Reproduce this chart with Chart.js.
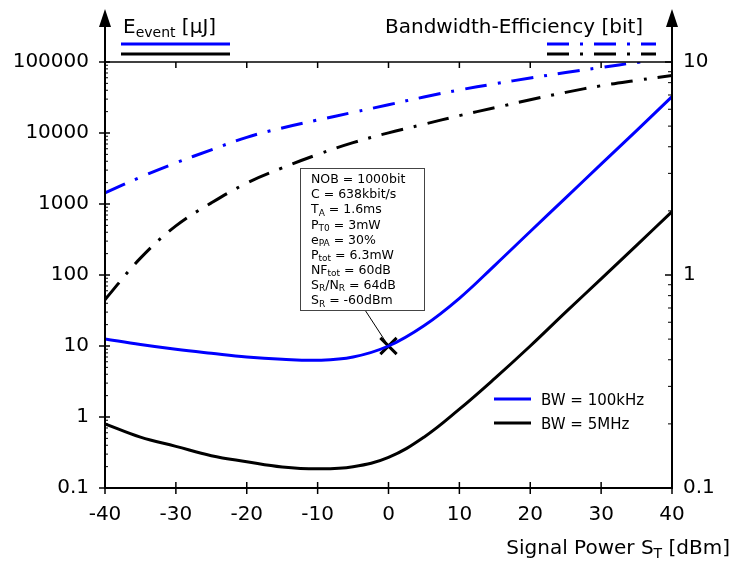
<!DOCTYPE html>
<html><head><meta charset="utf-8">
<script src="https://cdn.jsdelivr.net/npm/chart.js@4.4.1/dist/chart.umd.min.js"></script>
<style>html,body{margin:0;padding:0;background:#fff}#wrap{width:731px;height:563px;position:relative}</style>
</head><body><div id="wrap"><canvas id="c" width="731" height="563"></canvas></div>
<script>
// ---- data ----
const signalPower = [-40,-35,-30,-25,-20,-15,-10,-5,0,5,10,15,20,25,30,35,40];
const energy100kHz = [12.6,10.5,9.0,7.9,7.0,6.5,6.3,7.0,10,19.3,47,137,410,1220,3650,10800,32500];
const energy5MHz = [0.80,0.52,0.386,0.285,0.235,0.198,0.186,0.199,0.27,0.52,1.29,3.5,10,30,88,262,780];
const bwEff100kHz = [2.43,2.88,3.36,3.87,4.43,4.90,5.34,5.80,6.30,6.85,7.39,7.90,8.41,8.92,9.43,9.95,10.45];
const bwEff5MHz = [0.766,1.20,1.70,2.18,2.70,3.18,3.68,4.18,4.65,5.10,5.60,6.10,6.65,7.20,7.74,8.20,8.65];
const operatingPointX = [0];
const operatingPointY = [10];
const xTickValues = [-40,-30,-20,-10,0,10,20,30,40];
const energyTicks = [0.1,1,10,100,1000,10000,100000];
const energyTickLabels = ['0.1','1','10','100','1000','10000','100000'];
const effTicks = [0.1,1,10];
const effTickLabels = ['0.1','1','10'];
const seriesLabels = ['BW = 100kHz','BW = 5MHz'];
const annotationLines = [
  [['NOB = 1000bit',0]],
  [['C = 638kbit/s',0]],
  [['T',0],['A',1],[' = 1.6ms',0]],
  [['P',0],['T0',1],[' = 3mW',0]],
  [['e',0],['PA',1],[' = 30%',0]],
  [['P',0],['tot',1],[' = 6.3mW',0]],
  [['NF',0],['tot',1],[' = 60dB',0]],
  [['S',0],['R',1],['/N',0],['R',1],[' = 64dB',0]],
  [['S',0],['R',1],[' = -60dBm',0]]
];
const leftAxisTitle = [['E',0],['event',1],[' [μJ]',0]];
const rightAxisTitle = [['Bandwidth-Efficiency [bit]',0]];
const xAxisTitle = [['Signal Power S',0],['T',1],[' [dBm]',0]];

const BLUE = '#0000ff', BLACK = '#000000';
const FONT = 'DejaVu Sans';
Chart.defaults.font.family = FONT;
Chart.defaults.color = '#000';

const pts = (ys) => signalPower.map((x,i)=>({x:x,y:ys[i]}));
const DASHDOT = [22,11,3,11];

function richWidth(ctx, parts, size, subSize){
  let w=0;
  for(const [t,s] of parts){ ctx.font = (s?subSize:size)+'px "'+FONT+'"'; w += ctx.measureText(t).width; }
  return w;
}
function drawRich(ctx, parts, x, y, size, subSize, subDy, align){
  let cx = x;
  if(align==='right') cx = x - richWidth(ctx, parts, size, subSize);
  ctx.textAlign='left'; ctx.textBaseline='alphabetic';
  for(const [t,s] of parts){
    ctx.font = (s?subSize:size)+'px "'+FONT+'"';
    ctx.fillText(t, cx, s ? y+subDy : y);
    cx += ctx.measureText(t).width;
  }
}
function seg(ctx,x1,y1,x2,y2){ctx.beginPath();ctx.moveTo(x1,y1);ctx.lineTo(x2,y2);ctx.stroke();}
function arrow(ctx,x,tipY){ctx.beginPath();ctx.moveTo(x,tipY);ctx.lineTo(x-6,tipY+18);ctx.lineTo(x+6,tipY+18);ctx.closePath();ctx.fill();}

const decor = {
  id:'decor',
  afterDraw(chart){
    const ctx = chart.ctx, a = chart.chartArea;
    const xs = chart.scales.x, yl = chart.scales.y, yr = chart.scales.y1;
    ctx.save();
    ctx.strokeStyle = BLACK; ctx.fillStyle = BLACK; ctx.setLineDash([]);
    ctx.lineWidth = 1.5; seg(ctx, a.left, a.top, a.right, a.top);
    ctx.lineWidth = 2;
    seg(ctx, a.left, a.bottom+1, a.left, 26);
    seg(ctx, a.right, a.bottom+1, a.right, 26);
    seg(ctx, a.left-1, a.bottom, a.right+1, a.bottom);
    arrow(ctx, a.left, 9); arrow(ctx, a.right, 9);
    ctx.lineWidth = 1.5;
    for(const v of xTickValues){
      const px = xs.getPixelForValue(v);
      seg(ctx, px, a.bottom-6, px, a.bottom+6);
      seg(ctx, px, a.top, px, a.top+6);
    }
    for(const v of energyTicks){
      const py = yl.getPixelForValue(v);
      seg(ctx, a.left-6, py, a.left+5, py);
      if(v<100000){ for(let m=2;m<=9;m++){ const q=yl.getPixelForValue(v*m); ctx.lineWidth=1; seg(ctx,a.left,q,a.left+3,q); ctx.lineWidth=1.5; } }
    }
    for(const v of effTicks){
      const py = yr.getPixelForValue(v);
      seg(ctx, a.right-7, py, a.right, py);
      if(v<10){ for(let m=2;m<=9;m++){ const q=yr.getPixelForValue(v*m); ctx.lineWidth=1; seg(ctx,a.right-4,q,a.right,q); ctx.lineWidth=1.5; } }
    }
    drawRich(ctx, leftAxisTitle, 123, 33, 20, 14, 4, 'left');
    drawRich(ctx, rightAxisTitle, 385, 33, 20, 14, 4, 'left');
    ctx.lineWidth = 3;
    ctx.strokeStyle = BLUE; seg(ctx, 121, 44, 230, 44);
    ctx.strokeStyle = BLACK; seg(ctx, 121, 54, 230, 54);
    ctx.setLineDash(DASHDOT);
    ctx.strokeStyle = BLUE; seg(ctx, 547, 44, 656, 44);
    ctx.strokeStyle = BLACK; seg(ctx, 547, 54, 656, 54);
    ctx.setLineDash([]);
    ctx.fillStyle = BLACK;
    drawRich(ctx, xAxisTitle, 730, 554, 20, 14, 4, 'right');
    ctx.lineWidth = 3;
    ctx.strokeStyle = BLUE; seg(ctx, 494, 399, 531, 399);
    ctx.strokeStyle = BLACK; seg(ctx, 494, 423, 531, 423);
    ctx.font = '15px "'+FONT+'"'; ctx.textAlign='left'; ctx.textBaseline='alphabetic';
    ctx.fillText(seriesLabels[0], 541, 405);
    ctx.fillText(seriesLabels[1], 541, 429);
    const op = {x: xs.getPixelForValue(operatingPointX[0]), y: yl.getPixelForValue(operatingPointY[0])};
    ctx.lineWidth = 1; ctx.strokeStyle = BLACK;
    seg(ctx, 365, 310, op.x-2, op.y-3);
    ctx.fillStyle = '#fff'; ctx.fillRect(300.5,168.5,124,142);
    ctx.strokeStyle = '#444'; ctx.strokeRect(300.5,168.5,124,142);
    ctx.fillStyle = BLACK;
    annotationLines.forEach((ln,i)=>drawRich(ctx, ln, 311, 183.3+15.09*i, 12.5, 9, 2.5, 'left'));
    ctx.restore();
  }
};

const lineBase = {pointRadius: 0, borderWidth: 3, tension: 0.4, fill: false, borderCapStyle: 'butt'};
new Chart(document.getElementById('c'), {
  type: 'line',
  data: {
    datasets: [
      Object.assign({label: seriesLabels[0], data: pts(energy100kHz), yAxisID:'y', borderColor: BLUE}, lineBase),
      Object.assign({label: seriesLabels[1], data: pts(energy5MHz), yAxisID:'y', borderColor: BLACK}, lineBase),
      Object.assign({label: 'eff100k', data: pts(bwEff100kHz), yAxisID:'y1', borderColor: BLUE, borderDash: DASHDOT}, lineBase),
      Object.assign({label: 'eff5M', data: pts(bwEff5MHz), yAxisID:'y1', borderColor: BLACK, borderDash: DASHDOT}, lineBase),
      {label: 'op', data: operatingPointX.map((x,i)=>({x:x,y:operatingPointY[i]})), yAxisID:'y', showLine:false, pointStyle:'crossRot', pointRadius: 11.5, pointBorderWidth: 3, borderColor: BLACK, backgroundColor: BLACK}
    ]
  },
  options: {
    responsive: false, animation: false,
    layout: {padding: {top: 62, left: 0, right: 0, bottom: 0}},
    plugins: {legend: {display: false}, tooltip: {enabled: false}},
    scales: {
      x: {type:'linear', min:-40, max:40, position:'bottom',
          afterBuildTicks: s => { s.ticks = xTickValues.map(v=>({value:v})); },
          afterFit: s => { s.height = 75; },
          grid:{display:false, drawTicks:false}, border:{display:false},
          ticks:{font:{size:20}, color:'#000', padding:15, maxRotation:0, autoSkip:false}},
      y: {type:'logarithmic', min:0.1, max:100000, position:'left',
          afterBuildTicks: s => { s.ticks = energyTicks.map(v=>({value:v})); },
          afterFit: s => { s.width = 105; },
          grid:{display:false, drawTicks:false}, border:{display:false},
          ticks:{font:{size:20}, color:'#000', padding:16, autoSkip:false,
                 callback: v => energyTickLabels[energyTicks.indexOf(v)]}},
      y1: {type:'logarithmic', min:0.1, max:10, position:'right',
          afterBuildTicks: s => { s.ticks = effTicks.map(v=>({value:v})); },
          afterFit: s => { s.width = 59; },
          grid:{display:false, drawTicks:false}, border:{display:false},
          ticks:{font:{size:20}, color:'#000', padding:11, autoSkip:false,
                 callback: v => effTickLabels[effTicks.indexOf(v)]}}
    }
  },
  plugins: [decor]
});
</script></body></html>
